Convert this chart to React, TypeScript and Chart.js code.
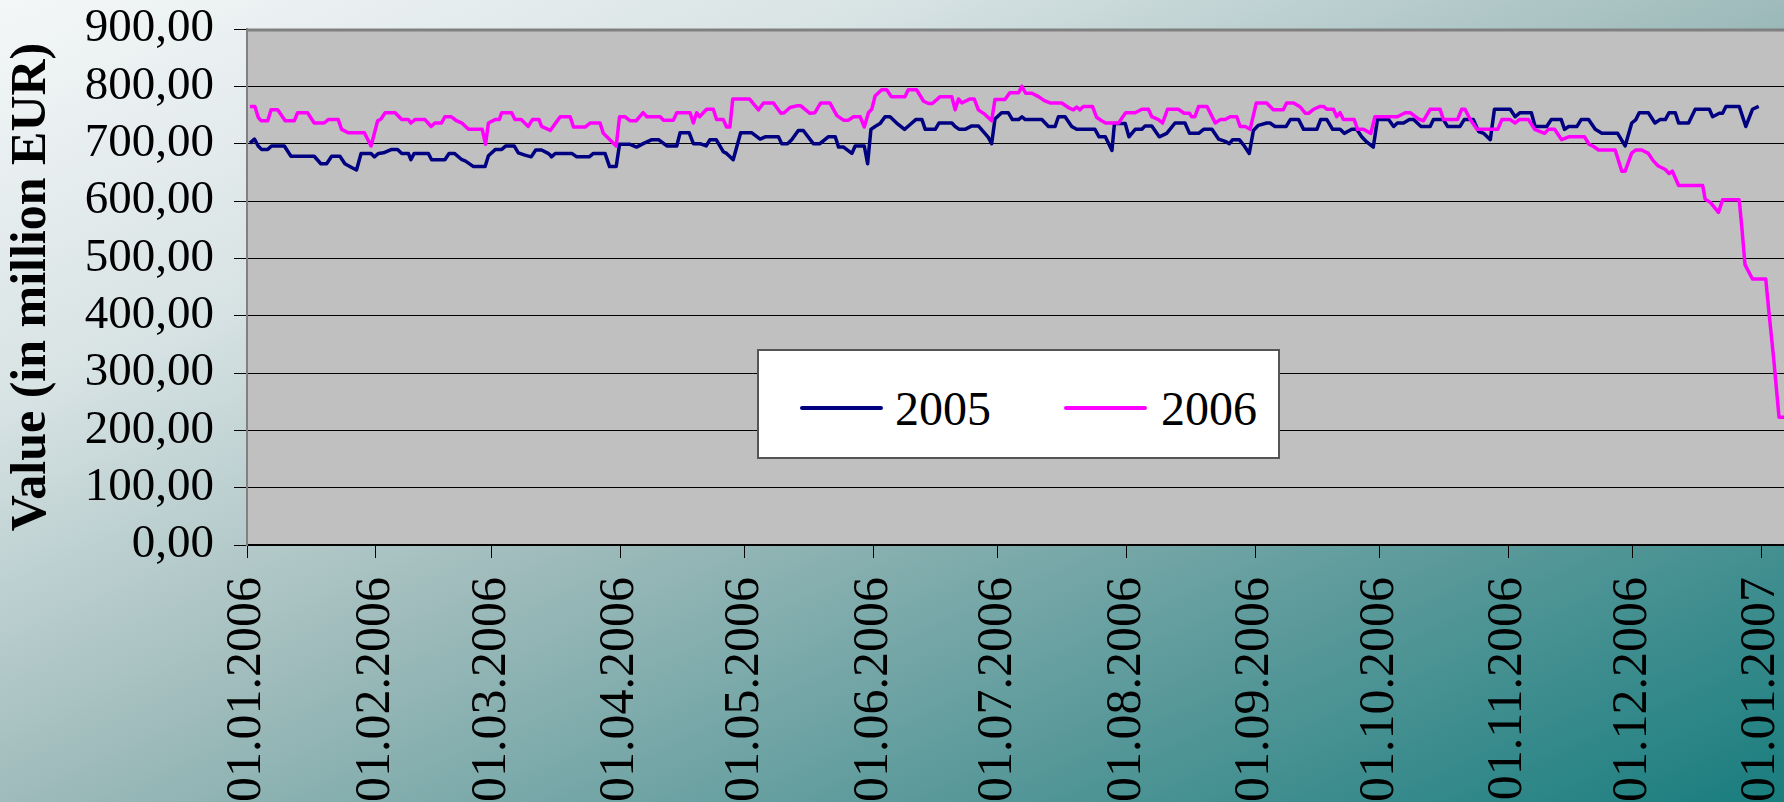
import React, { useEffect, useRef } from "react";
import { Chart, registerables } from "chart.js";

Chart.register(...registerables);

// ---- data ----
const seriesLabels = ["2005", "2006"];
const seriesColors = ["#000080", "#ff00ff"];

// x tick positions (day of year 2006) and their labels
const xTickDays = [0, 31, 59, 90, 120, 151, 181, 212, 243, 273, 304, 334, 365];
const xTickLabels = [
  "01.01.2006", "01.02.2006", "01.03.2006", "01.04.2006", "01.05.2006", "01.06.2006",
  "01.07.2006", "01.08.2006", "01.09.2006", "01.10.2006", "01.11.2006", "01.12.2006",
  "01.01.2007",
];
const xMaxDay = 370.5;

const days2005 = [
  0.7, 1.8, 2.7, 3.5, 5.0, 5.9, 9.0, 10.6, 16.2, 17.8, 19.2, 20.4, 22.4, 23.6, 25.1, 26.4, 27.5, 29.9, 30.7, 31.7,
  32.9, 34.9, 36.3, 37.3, 38.9, 39.5, 40.3, 43.7, 44.5, 47.7, 48.7, 50.0, 51.8, 52.6, 54.6, 57.4, 58.2, 59.9, 61.4, 62.4,
  64.4, 65.4, 67.0, 68.5, 69.6, 71.0, 72.6, 73.1, 73.4, 74.3, 78.3, 79.5, 82.5, 83.5, 86.3, 87.4, 89.0, 89.8, 92.2, 93.9,
  95.5, 97.6, 99.2, 101.2, 103.6, 104.4, 106.6, 107.6, 109.2, 110.7, 111.6, 113.1, 114.8, 115.6, 117.2, 119.0, 121.7, 123.7, 124.9, 128.1,
  128.9, 130.3, 131.3, 132.9, 134.1, 136.5, 138.1, 140.1, 141.8, 142.6, 143.8, 145.8, 146.6, 148.8, 149.6, 150.4, 151.4, 152.6, 153.8, 155.0,
  156.6, 158.5, 159.8, 161.2, 162.7, 163.5, 165.9, 166.8, 169.9, 170.7, 171.7, 173.1, 174.7, 176.3, 177.5, 178.7, 179.5, 180.3, 181.9, 183.5,
  184.5, 186.0, 186.8, 187.6, 191.6, 193.2, 194.8, 195.6, 197.2, 198.8, 200.0, 204.4, 205.4, 206.9, 208.5, 209.1, 211.7, 212.6, 214.1, 215.7,
  216.5, 218.1, 219.9, 221.7, 223.7, 226.1, 227.2, 229.4, 230.6, 232.6, 234.2, 235.8, 236.8, 237.6, 239.2, 240.2, 241.6, 242.6, 243.8, 245.8,
  246.6, 247.8, 250.5, 251.5, 253.5, 254.7, 257.9, 258.8, 260.3, 261.7, 263.5, 264.5, 266.3, 267.5, 268.7, 269.9, 271.5, 272.5, 275.2, 276.4,
  277.3, 278.8, 280.2, 281.2, 283.0, 285.2, 286.0, 288.4, 289.4, 292.4, 293.4, 295.6, 296.9, 298.1, 299.7, 300.7, 304.5, 305.7, 306.9, 309.6,
  310.5, 313.3, 314.4, 316.8, 317.6, 318.6, 320.6, 321.6, 323.4, 325.0, 326.6, 330.4, 332.2, 333.8, 334.8, 335.6, 337.8, 339.4, 340.6, 341.9,
  342.8, 344.3, 345.1, 347.5, 349.1, 352.5, 353.3, 354.9, 355.7, 356.5, 359.7, 361.3, 362.9, 364.4,
];
const values2005 = [
  701, 708, 696, 690, 690, 696, 696, 678, 678, 665, 665, 678, 678, 665, 659, 654, 683, 683, 677, 683,
  684, 690, 690, 683, 683, 672, 683, 683, 672, 672, 683, 683, 672, 670, 660, 660, 679, 690, 690, 696,
  696, 684, 680, 677, 689, 689, 683, 680, 677, 683, 683, 677, 677, 683, 683, 660, 660, 699, 699, 694,
  700, 707, 707, 696, 696, 719, 719, 700, 700, 696, 707, 707, 686, 683, 672, 719, 719, 708, 712, 712,
  700, 700, 707, 723, 723, 700, 700, 712, 712, 694, 694, 683, 696, 696, 665, 725, 730, 735, 747, 747,
  736, 725, 733, 742, 742, 725, 725, 736, 736, 730, 725, 725, 731, 731, 721, 711, 700, 743, 754, 754,
  742, 742, 747, 742, 742, 730, 730, 747, 747, 730, 725, 725, 712, 712, 688, 735, 735, 712, 725, 725,
  731, 731, 712, 718, 736, 736, 718, 718, 725, 725, 708, 704, 700, 707, 707, 698, 683, 723, 732, 736,
  736, 730, 730, 742, 742, 725, 725, 742, 742, 725, 725, 718, 725, 725, 712, 703, 694, 742, 742, 730,
  736, 736, 742, 742, 730, 730, 742, 742, 730, 730, 742, 742, 721, 718, 707, 760, 760, 747, 754, 754,
  730, 730, 742, 742, 725, 730, 730, 742, 742, 725, 718, 718, 696, 736, 742, 754, 754, 736, 742, 742,
  754, 754, 736, 736, 760, 760, 747, 753, 753, 765, 765, 730, 760, 765,
];

const days2006 = [
  0.7, 1.9, 2.7, 3.4, 5.0, 5.8, 7.4, 9.2, 11.4, 12.2, 14.6, 16.2, 18.6, 19.6, 22.0, 22.8, 24.4, 28.3, 29.9, 31.5,
  32.3, 33.3, 35.7, 37.3, 38.9, 39.5, 40.5, 42.9, 44.4, 45.3, 46.9, 47.7, 49.2, 50.5, 51.8, 53.4, 56.7, 57.5, 58.2, 59.8,
  60.8, 61.4, 63.8, 64.6, 66.1, 67.8, 68.8, 70.4, 71.0, 72.6, 73.1, 74.3, 75.5, 77.9, 78.7, 81.5, 82.7, 85.1, 85.9, 89.0,
  89.8, 91.1, 92.3, 93.8, 95.5, 96.4, 99.6, 100.4, 102.8, 103.6, 106.8, 107.6, 108.4, 109.1, 110.8, 112.4, 113.2, 114.8, 115.6, 116.4,
  117.1, 121.1, 123.3, 124.5, 126.9, 128.7, 129.5, 130.9, 132.5, 133.5, 135.7, 136.9, 138.3, 140.5, 142.2, 143.8, 145.0, 146.2, 147.8, 148.8,
  149.8, 150.6, 151.4, 153.0, 154.2, 155.3, 158.6, 159.4, 161.4, 163.1, 164.3, 165.2, 167.1, 169.9, 170.7, 171.5, 172.3, 174.3, 175.3, 176.3,
  177.9, 179.5, 180.3, 182.7, 183.9, 186.0, 186.8, 187.7, 189.2, 190.8, 192.2, 193.6, 196.4, 198.0, 199.2, 200.0, 200.8, 201.6, 203.8, 204.8,
  206.0, 207.0, 210.1, 211.8, 214.1, 215.7, 217.3, 218.1, 219.7, 220.7, 221.9, 224.5, 225.9, 227.2, 227.7, 228.5, 229.4, 231.4, 233.4, 234.6,
  235.8, 237.0, 238.6, 239.4, 240.6, 241.8, 243.3, 245.8, 247.4, 249.8, 250.6, 252.3, 253.9, 255.1, 255.9, 257.1, 258.7, 259.5, 260.3, 261.9,
  262.7, 263.5, 264.3, 266.9, 267.7, 269.1, 270.9, 271.9, 277.3, 279.2, 280.4, 282.4, 283.6, 285.2, 287.6, 288.4, 291.8, 292.8, 293.6, 294.8,
  296.5, 301.5, 302.5, 304.5, 305.7, 306.7, 308.9, 310.4, 312.8, 313.7, 315.2, 316.9, 318.6, 322.4, 323.5, 324.6, 325.8, 329.8, 331.4, 332.2,
  333.8, 334.8, 336.2, 337.8, 339.0, 340.2, 341.9, 342.8, 343.6, 345.1, 350.9, 351.5, 352.7, 354.7, 355.7, 359.7, 360.3, 361.1, 362.9, 366.1,
  366.9, 368.0, 369.3, 370.5,
];
const values2006 = [
  765, 765, 746, 740, 740, 759, 759, 740, 740, 754, 754, 736, 736, 742, 742, 725, 719, 719, 696, 740,
  743, 754, 754, 742, 742, 736, 742, 742, 730, 736, 736, 747, 747, 740, 736, 725, 725, 699, 736, 742,
  742, 754, 754, 742, 742, 730, 742, 742, 730, 725, 723, 735, 747, 747, 729, 729, 736, 736, 718, 696,
  747, 747, 740, 740, 754, 747, 747, 741, 741, 754, 754, 736, 754, 747, 760, 760, 742, 742, 729, 729,
  778, 778, 759, 771, 771, 753, 754, 763, 766, 766, 753, 754, 771, 771, 749, 741, 741, 747, 747, 729,
  754, 760, 783, 794, 794, 782, 782, 794, 794, 774, 770, 770, 782, 782, 759, 778, 771, 778, 778, 759,
  751, 740, 777, 777, 789, 789, 800, 788, 788, 782, 775, 771, 771, 763, 759, 764, 759, 765, 765, 746,
  740, 736, 736, 754, 754, 760, 760, 747, 742, 736, 760, 760, 753, 753, 747, 747, 765, 765, 736, 742,
  742, 747, 747, 730, 730, 725, 771, 771, 759, 759, 771, 771, 764, 753, 753, 760, 765, 765, 760, 760,
  747, 754, 742, 742, 725, 725, 718, 747, 747, 754, 754, 743, 740, 760, 760, 742, 742, 760, 760, 743,
  725, 725, 742, 742, 736, 742, 742, 725, 718, 725, 725, 707, 712, 712, 699, 695, 689, 689, 652, 652,
  684, 689, 689, 683, 670, 661, 655, 648, 652, 627, 627, 603, 598, 580, 602, 602, 557, 489, 464, 464,
  404, 326, 223, 223,
];

const yAxisTitle = "Value (in million EUR)";
const yMin = 0;
const yMax = 900;
const yStep = 100;

const FONT = "'Liberation Serif', 'Times New Roman', serif";

const plotArea = {
  id: "plotArea",
  beforeDraw(chart: any) {
    const { ctx, chartArea } = chart;
    ctx.save();
    ctx.fillStyle = "#c0c0c0";
    ctx.fillRect(chartArea.left, chartArea.top, chartArea.right - chartArea.left, chartArea.bottom - chartArea.top);
    ctx.restore();
  },
  beforeDatasetsDraw(chart: any) {
    const { ctx, chartArea } = chart;
    ctx.save();
    ctx.strokeStyle = "#808080";
    ctx.lineWidth = 3;
    ctx.beginPath();
    ctx.moveTo(chartArea.left, chartArea.top + 1);
    ctx.lineTo(chartArea.right, chartArea.top + 1);
    ctx.stroke();
    ctx.restore();
  },
};

function toPoints(days: number[], values: number[]) {
  return days.map((d, i) => ({ x: d, y: values[i] }));
}

export default function App() {
  const ref = useRef<HTMLCanvasElement | null>(null);

  useEffect(() => {
    const canvas = ref.current;
    if (!canvas) return;
    const chart = new Chart(canvas, {
      type: "line",
      data: {
        datasets: [
          {
            label: seriesLabels[0],
            data: toPoints(days2005, values2005),
            borderColor: seriesColors[0],
            backgroundColor: seriesColors[0],
            borderWidth: 3.5,
            pointRadius: 0,
            tension: 0,
            fill: false,
            order: 1,
            borderJoinStyle: "round",
          },
          {
            label: seriesLabels[1],
            data: toPoints(days2006, values2006),
            borderColor: seriesColors[1],
            backgroundColor: seriesColors[1],
            borderWidth: 3.5,
            pointRadius: 0,
            tension: 0,
            fill: false,
            order: 0,
            borderJoinStyle: "round",
          },
        ],
      },
      options: {
        responsive: false,
        animation: false,
        devicePixelRatio: 1,
        layout: { padding: { top: 29, left: 0, right: 0, bottom: 0 } },
        plugins: { legend: { display: false }, tooltip: { enabled: false } },
        scales: {
          x: {
            type: "linear",
            min: 0,
            max: xMaxDay,
            afterBuildTicks: (s: any) => {
              s.ticks = xTickDays.map((v) => ({ value: v }));
            },
            afterFit: (s: any) => {
              s.height = 257;
              s.paddingLeft = 0;
              s.paddingRight = 0;
            },
            ticks: {
              autoSkip: false,
              minRotation: 90,
              maxRotation: 90,
              padding: 19,
              color: "#000",
              font: { family: FONT, size: 50 },
              callback: (v: any) => {
                const i = xTickDays.indexOf(Number(v));
                return i >= 0 ? xTickLabels[i] : "";
              },
            },
            grid: { display: true, drawOnChartArea: false, drawTicks: true, tickLength: 13, color: "#000", lineWidth: 1 },
            border: { display: true, color: "#000", width: 2 },
          },
          y: {
            min: yMin,
            max: yMax,
            afterFit: (s: any) => {
              s.width = 247;
              s.paddingTop = 0;
              s.paddingBottom = 0;
            },
            ticks: {
              stepSize: yStep,
              autoSkip: false,
              padding: 20,
              color: "#000",
              font: { family: FONT, size: 47 },
              callback: (v: any) => Number(v).toFixed(2).replace(".", ","),
            },
            grid: { color: "#000", lineWidth: 1, tickLength: 13, drawTicks: true },
            border: { display: true, color: "#808080", width: 2 },
            title: {
              display: true,
              text: yAxisTitle,
              color: "#000",
              font: { family: FONT, size: 50, weight: "bold" },
              padding: { top: 2, bottom: 0 },
            },
          },
        },
      } as any,
      plugins: [plotArea],
    });
    return () => chart.destroy();
  }, []);

  const legendItem = (i: number, lineLeft: number, textLeft: number) => (
    <React.Fragment key={i}>
      <div
        style={{
          position: "absolute",
          left: lineLeft,
          top: 55,
          width: 83,
          height: 4,
          borderRadius: 2,
          background: seriesColors[i],
        }}
      />
      <span
        style={{
          position: "absolute",
          left: textLeft,
          top: 34,
          fontFamily: FONT,
          fontSize: 48,
          lineHeight: 1,
          color: "#000",
          whiteSpace: "nowrap",
        }}
      >
        {seriesLabels[i]}
      </span>
    </React.Fragment>
  );

  return (
    <div
      style={{
        position: "absolute",
        left: 0,
        top: 0,
        width: 1784,
        height: 802,
        overflow: "hidden",
        background:
          "linear-gradient(to bottom right, #f4f7f8 0%, #d8e3e4 25%, #9fbbbb 50%, #5c9a9b 75%, #197d7e 100%)",
      }}
    >
      <canvas ref={ref} width={1784} height={802} style={{ display: "block", width: 1784, height: 802 }} />
      <div
        style={{
          position: "absolute",
          left: 757,
          top: 349,
          width: 523,
          height: 110,
          boxSizing: "border-box",
          border: "2px solid #555",
          background: "#fff",
        }}
      >
        {legendItem(0, 41, 136)}
        {legendItem(1, 305, 402)}
      </div>
    </div>
  );
}
